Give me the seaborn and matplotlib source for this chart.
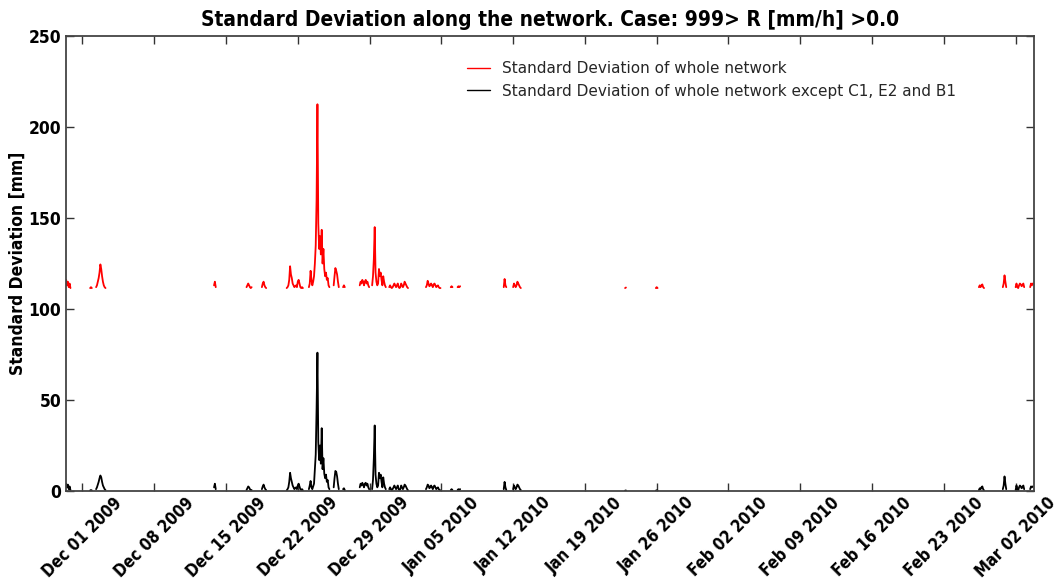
import pandas as pd
import numpy as np
import matplotlib
matplotlib.use("Agg")
import matplotlib.pyplot as plt
from matplotlib.lines import Line2D
import seaborn as sns

# Rain events: start time of each event, then 2-hourly values of the std deviation
event_starts = [
    "2009-11-29 10:00", "2009-12-01 18:00", "2009-12-02 08:00", "2009-12-13 20:00",
    "2009-12-17 00:00", "2009-12-18 12:00", "2009-12-20 22:00", "2009-12-23 02:00",
    "2009-12-25 12:00", "2009-12-26 10:00", "2009-12-28 01:00", "2009-12-29 06:00",
    "2009-12-30 22:00", "2010-01-03 12:00", "2010-01-05 22:00", "2010-01-06 14:00",
    "2010-01-11 02:00", "2010-01-12 00:00", "2010-01-22 22:00", "2010-01-25 22:00",
    "2010-02-26 10:00", "2010-02-28 18:00", "2010-03-02 00:00", "2010-03-03 10:00",
]

# whole network (red)
std_all = [
    [116, 113, 115, 112, 114, 111.5],
    [111.5, 112, 111.5],
    [112, 113, 115, 117, 120, 124.5, 122, 118, 115, 113, 112, 111.5],
    [113, 115, 112],
    [112, 113, 114, 113, 112, 111.5, 112],
    [112, 114, 115, 113, 112, 111.5],
    [111.5, 112, 113, 116, 123.5, 119, 117, 114, 113, 112, 112.5, 113, 112, 115, 116, 114, 112, 111.5, 112, 111.5],
    [112, 114, 121, 116, 113, 115, 118, 125, 135, 160, 212.5, 147, 133, 140, 130, 143.5, 125, 133, 122, 118, 120, 116, 117, 113, 112],
    [113, 118, 122.5, 121, 119, 115, 112],
    [112, 113, 112],
    [113, 115, 114, 116, 115, 113, 115, 116, 114, 115, 113, 112],
    [113, 118, 127.5, 145, 120, 115, 113, 114, 122, 118, 120, 116, 113, 118, 115, 113, 112],
    [112, 113, 112, 111.5, 112, 113, 114, 113, 112, 113, 114, 112, 111.5, 112, 114, 113, 112, 113, 115, 114, 113, 112, 111.5],
    [112, 113, 115.5, 114, 112.5, 113, 114, 113, 112, 113.5, 114, 113, 112, 112.5, 113, 112, 111.5, 111.5],
    [112, 112.5, 112],
    [112, 112.5, 112, 112.5],
    [112, 116.5, 113, 112],
    [112, 114, 113, 112, 113, 115, 114, 113, 112, 111.5],
    [111.5, 111.8],
    [111.5, 112, 111.5],
    [112, 113, 112, 113, 113.5, 112, 111.5],
    [112, 114, 118.5, 115, 112],
    [112, 114, 112, 111.5, 113, 114, 113.5, 112.5, 113, 114, 112],
    [112, 114, 113, 114],
]

# whole network except C1, E2 and B1 (black)
std_except = [
    [4, 2, 3.5, 1, 2.5, 0.5],
    [0.3, 0.5, 0.3],
    [1, 2, 3.5, 5, 7, 8.5, 7.5, 5, 3, 2, 1, 0.5],
    [2, 4, 1],
    [0.5, 1.5, 2.5, 2, 1, 0.5, 0.5],
    [1, 2.5, 3.5, 2, 1, 0.5],
    [0.3, 1, 2, 5, 10, 7, 5, 3, 2, 1, 1.5, 2, 1, 3, 4, 2.5, 1, 0.5, 1, 0.3],
    [1, 3, 5.5, 2, 1, 2.5, 4, 12, 20, 45, 76, 27, 17, 25, 15, 34.5, 12, 18, 9.5, 7, 9, 5, 6, 2, 1],
    [2, 7, 11, 10.5, 8, 4, 1],
    [1, 1.5, 0.5],
    [2, 4, 3, 4.5, 3.5, 2, 4, 4.5, 3, 4, 2, 1],
    [1, 6, 18, 36, 9, 4, 2, 3, 10, 7, 9, 5, 2, 7.5, 4, 2, 1],
    [1, 2, 1, 0.5, 1, 2, 3, 2, 1, 2, 3, 1, 0.5, 1, 3, 2, 1, 2, 3.5, 3, 2, 1, 0.3],
    [1, 2, 3.5, 3, 1.5, 2, 3, 2, 1, 2.5, 3, 2, 1, 1.5, 2, 1, 0.5, 0.3],
    [0.5, 1, 0.5],
    [0.5, 1, 0.5, 1],
    [1, 5, 2, 0.5],
    [1, 3, 2, 1, 2, 3.5, 3, 2, 1, 0.5],
    [0.2, 0.3],
    [0.2, 0.4, 0.2],
    [0.5, 1.5, 1, 2, 2.5, 1, 0.3],
    [1, 3, 8, 4, 1],
    [0.5, 3, 1, 0.3, 2, 3, 2.5, 1.5, 2, 3, 1],
    [1, 2.5, 2, 2.5],
]

tick_labels = ["Dec 01 2009", "Dec 08 2009", "Dec 15 2009", "Dec 22 2009", "Dec 29 2009",
               "Jan 05 2010", "Jan 12 2010", "Jan 19 2010", "Jan 26 2010", "Feb 02 2010",
               "Feb 09 2010", "Feb 16 2010", "Feb 23 2010", "Mar 02 2010"]

# construire le tableau long
rows = []
for k, (start, red, blk) in enumerate(zip(event_starts, std_all, std_except)):
    times = pd.date_range(start, periods=len(red), freq="2h")
    for t, r, b in zip(times, red, blk):
        rows.append({"time": t, "event": k, "all": r, "except": b})
df = pd.DataFrame(rows)

sns.set_theme(style="ticks")
plt.rcParams["font.family"] = ["DejaVu Sans"]

fig = plt.figure(figsize=(10.59, 5.82), dpi=100)
ax = fig.add_axes([0.0623, 0.1564, 0.9141, 0.7817])

sns.lineplot(data=df, x="time", y="all", units="event", estimator=None,
             color="red", lw=1.3, ax=ax, legend=False)
sns.lineplot(data=df, x="time", y="except", units="event", estimator=None,
             color="black", lw=1.3, ax=ax, legend=False)

ax.set_xlim(pd.Timestamp("2009-11-29 09:30"), pd.Timestamp("2010-03-03 19:00"))
ax.set_ylim(0, 250)
ax.set_yticks([0, 50, 100, 150, 200, 250])
ticks = pd.to_datetime(tick_labels, format="%b %d %Y")
ax.set_xticks(ticks)
ax.set_xticklabels(tick_labels, rotation=45, ha="center", fontsize=12,
                   fontweight="bold", fontstretch="condensed")
plt.setp(ax.get_yticklabels(), fontsize=12.5, fontweight="bold", fontstretch="condensed")

ax.tick_params(direction="in", top=True, right=True, length=6, width=1,
               color="#333333", labelcolor="black")
ax.tick_params(axis="x", pad=2)
for s in ax.spines.values():
    s.set_color("#444444")
    s.set_linewidth(1.3)

ax.set_xlabel("")
ax.set_ylabel("Standard Deviation [mm]", fontsize=12.5, fontweight="bold",
              fontstretch="condensed", color="black", labelpad=1)
ax.set_title("Standard Deviation along the network. Case: 999> R [mm/h] >0.0",
             fontsize=15, fontweight="bold", fontstretch="condensed", pad=7, color="black")

handles = [Line2D([], [], color="red", lw=1.0), Line2D([], [], color="black", lw=1.0)]
ax.legend(handles, ["Standard Deviation of whole network",
                    "Standard Deviation of whole network except C1, E2 and B1"],
          loc="upper left", bbox_to_anchor=(0.40, 0.975), frameon=False,
          fontsize=11, handlelength=1.5)

fig.savefig("out.png", dpi=100)
